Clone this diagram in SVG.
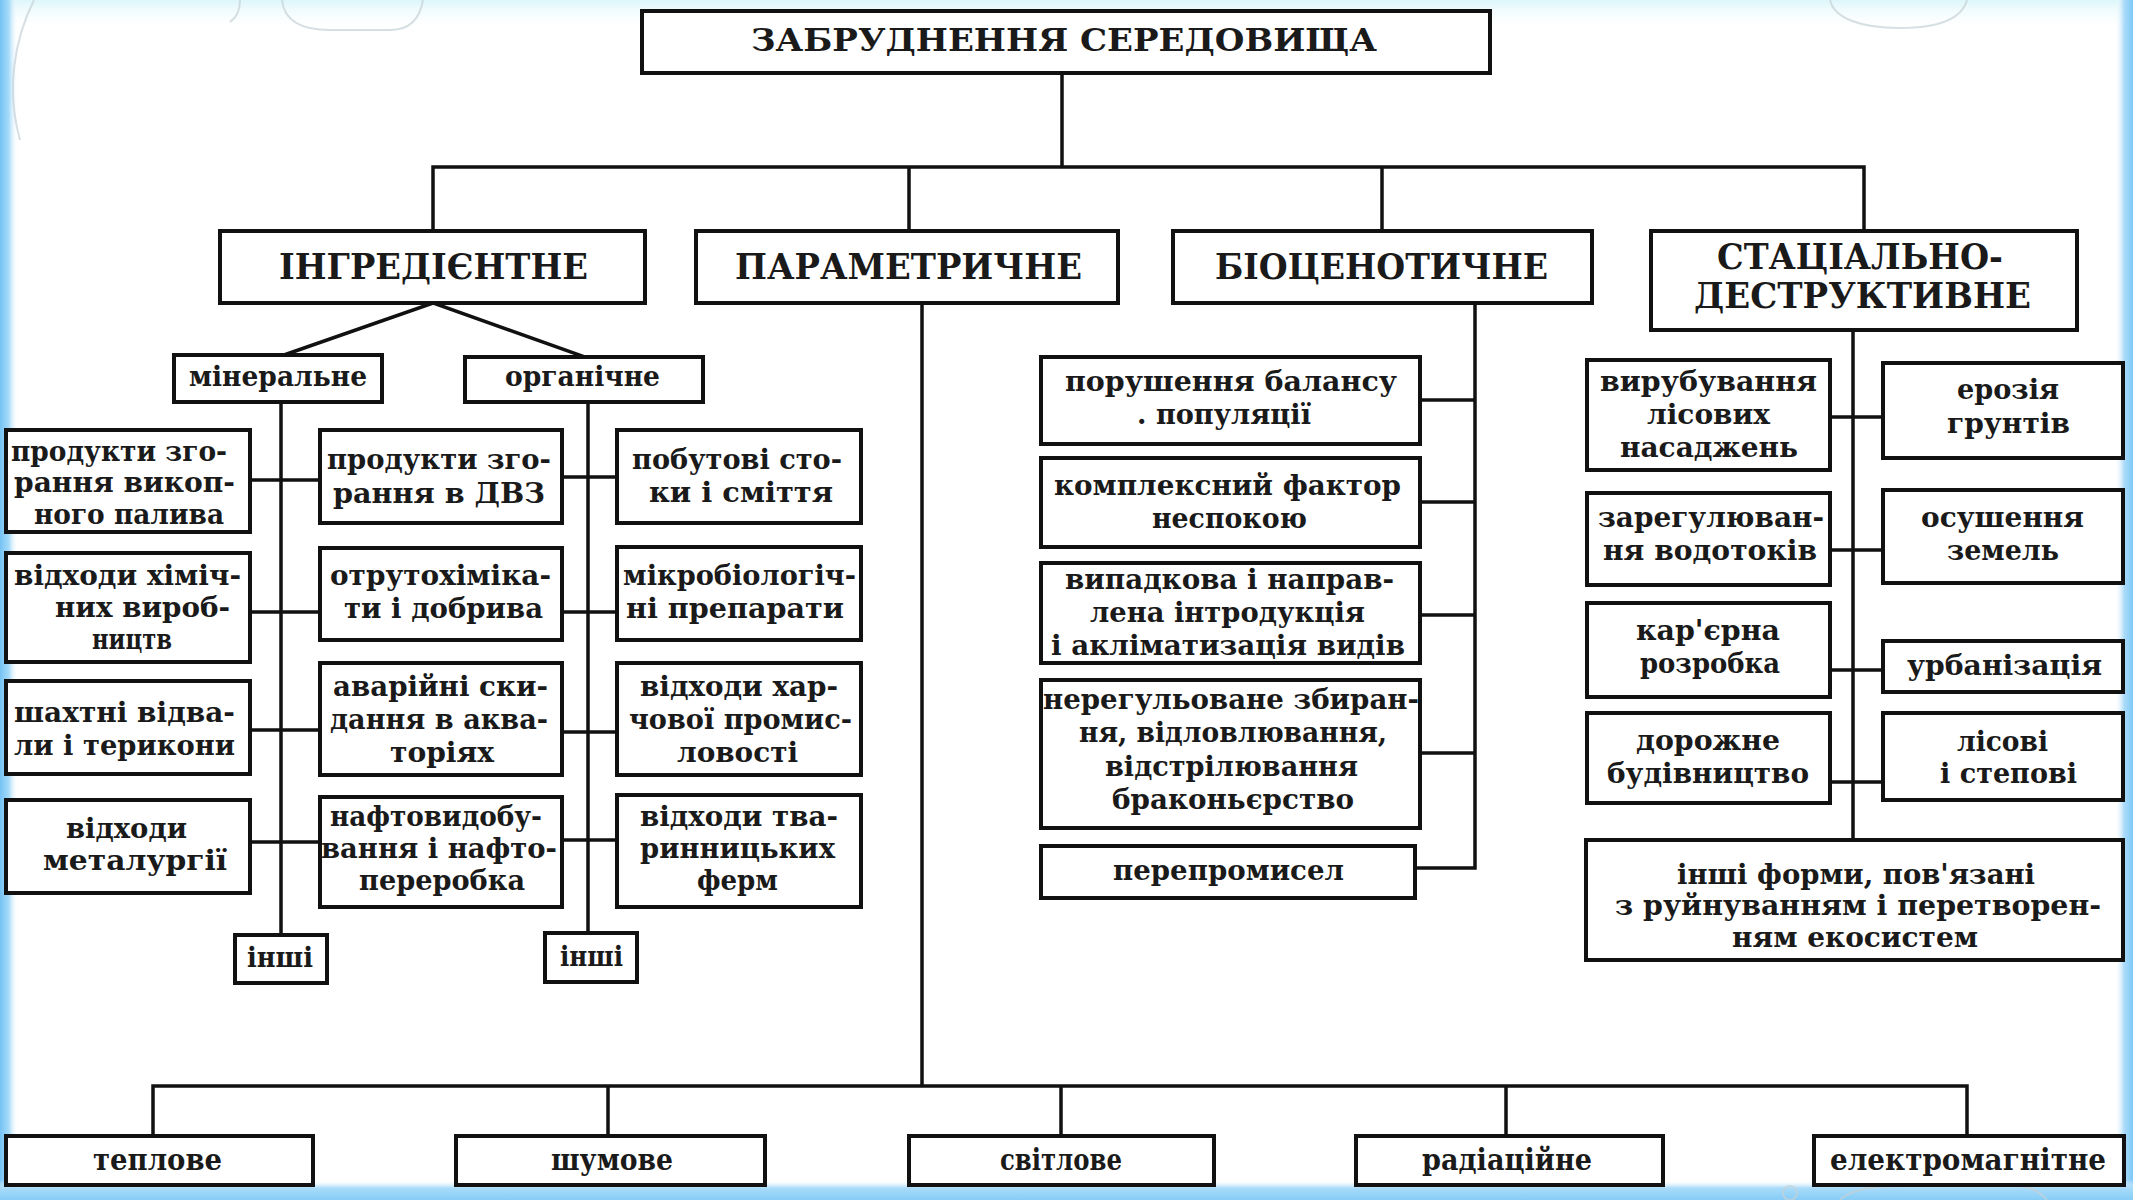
<svg xmlns="http://www.w3.org/2000/svg" width="2133" height="1200" viewBox="0 0 2133 1200">
<defs>
<linearGradient id="gl" x1="0" y1="0" x2="1" y2="0"><stop offset="0" stop-color="#74c2f4"/><stop offset="0.5" stop-color="#a8dbf9"/><stop offset="1" stop-color="#ffffff" stop-opacity="0"/></linearGradient>
<linearGradient id="gr" x1="1" y1="0" x2="0" y2="0"><stop offset="0" stop-color="#7cc8f6"/><stop offset="0.5" stop-color="#addcf9"/><stop offset="1" stop-color="#ffffff" stop-opacity="0"/></linearGradient>
<linearGradient id="gb" x1="0" y1="1" x2="0" y2="0"><stop offset="0" stop-color="#86cdf7"/><stop offset="0.6" stop-color="#a9dbf9"/><stop offset="1" stop-color="#ffffff" stop-opacity="0"/></linearGradient>
<linearGradient id="gt" x1="0" y1="0" x2="0" y2="1"><stop offset="0" stop-color="#dcf6fa"/><stop offset="1" stop-color="#ffffff" stop-opacity="0"/></linearGradient>
<style>
.b{fill:#fff;stroke:#111;stroke-width:4}
.c{fill:none;stroke:#111;stroke-width:3.5;stroke-linecap:square}
text{font-family:"DejaVu Serif","Liberation Serif",serif;font-weight:bold;fill:#1a1a1a}
.t{font-size:28px}
.h{font-size:35px}
.m{font-size:27px}
.f{font-size:30px}
.bub{fill:none;stroke:#c4d2d5;stroke-width:2;opacity:0.7}
</style>
</defs>
<rect x="0" y="0" width="2133" height="1200" fill="#fff"/>
<rect x="0" y="0" width="2133" height="30" fill="url(#gt)"/>
<rect x="0" y="0" width="18" height="1200" fill="url(#gl)"/>
<rect x="2115" y="0" width="18" height="1200" fill="url(#gr)"/>
<rect x="0" y="1180" width="2133" height="20" fill="url(#gb)"/>
<g id="decor">
<path class="bub" d="M34,0 C14,40 6,90 20,140"/>
<path class="bub" d="M240,0 C240,12 236,18 230,22"/>
<path class="bub" d="M282,0 C284,20 300,30 330,30 L390,30 C410,30 420,18 423,0"/>
<path class="bub" d="M1830,0 C1834,18 1860,28 1900,28 C1940,28 1962,18 1967,0"/>
<path class="bub" d="M1840,1200 C1850,1190 1870,1186 1900,1186 M2020,1186 C2035,1188 2042,1194 2047,1200"/>
<circle class="bub" cx="1790" cy="1193" r="7"/>
</g>

<g id="connectors">
<path class="c" d="M1062,73 V167 M433,167 H1864 M433,167 V231 M909,167 V231 M1382,167 V231 M1864,167 V231"/>
<path class="c" d="M433,303 L284,355 M433,303 L585,357"/>
<path class="c" d="M281,402 V935 M250,480 H320 M250,612 H320 M250,730 H320 M250,842 H320"/>
<path class="c" d="M588,402 V933 M562,477 H617 M562,612 H617 M562,732 H617 M562,840 H617"/>
<path class="c" d="M1475,303 V868 M1420,400 H1475 M1420,502 H1475 M1420,615 H1475 M1420,753 H1475 M1415,868 H1475"/>
<path class="c" d="M1853,330 V840 M1830,417 H1883 M1830,550 H1883 M1830,670 H1883 M1830,782 H1883"/>
<path class="c" d="M922,303 V1086 M153,1086 H1967 M153,1086 V1136 M608,1086 V1136 M1061,1086 V1136 M1506,1086 V1136 M1967,1086 V1136"/>
</g>

<g id="n-top"><rect class="b" x="642" y="11" width="848" height="62"/><text x="751" y="51" font-size="31" textLength="626" lengthAdjust="spacingAndGlyphs">ЗАБРУДНЕННЯ СЕРЕДОВИЩА</text></g>

<g id="n-ingr"><rect class="b" x="220" y="231" width="425" height="72"/><text class="h" x="279" y="279" textLength="309" lengthAdjust="spacingAndGlyphs">ІНГРЕДІЄНТНЕ</text></g>
<g id="n-param"><rect class="b" x="696" y="231" width="422" height="72"/><text class="h" x="735" y="279" textLength="347" lengthAdjust="spacingAndGlyphs">ПАРАМЕТРИЧНЕ</text></g>
<g id="n-bio"><rect class="b" x="1173" y="231" width="419" height="72"/><text class="h" x="1215" y="279" textLength="333" lengthAdjust="spacingAndGlyphs">БІОЦЕНОТИЧНЕ</text></g>
<g id="n-stat"><rect class="b" x="1651" y="231" width="426" height="99"/><text class="h" x="1717" y="269" textLength="286" lengthAdjust="spacingAndGlyphs">СТАЦІАЛЬНО-</text><text class="h" x="1694" y="308" textLength="337" lengthAdjust="spacingAndGlyphs">ДЕСТРУКТИВНЕ</text></g>

<g id="n-min"><rect class="b" x="174" y="355" width="208" height="47"/><text class="m" x="189" y="386" textLength="178" lengthAdjust="spacingAndGlyphs">мінеральне</text></g>
<g id="n-org"><rect class="b" x="465" y="357" width="238" height="45"/><text class="m" x="505" y="386" textLength="155" lengthAdjust="spacingAndGlyphs">органічне</text></g>

<g id="n-l1"><rect class="b" x="6" y="430" width="244" height="102"/><text class="t" x="11" y="461" textLength="216" lengthAdjust="spacingAndGlyphs">продукти зго-</text><text class="t" x="14" y="492" textLength="221" lengthAdjust="spacingAndGlyphs">рання викоп-</text><text class="t" x="34" y="524" textLength="190" lengthAdjust="spacingAndGlyphs">ного палива</text></g>
<g id="n-l2"><rect class="b" x="6" y="553" width="244" height="109"/><text class="t" x="14" y="585" textLength="227" lengthAdjust="spacingAndGlyphs">відходи хіміч-</text><text class="t" x="55" y="617" textLength="175" lengthAdjust="spacingAndGlyphs">них вироб-</text><text class="t" x="92" y="649" textLength="80" lengthAdjust="spacingAndGlyphs">ництв</text></g>
<g id="n-l3"><rect class="b" x="6" y="681" width="244" height="93"/><text class="t" x="14" y="722" textLength="221" lengthAdjust="spacingAndGlyphs">шахтні відва-</text><text class="t" x="14" y="755" textLength="221" lengthAdjust="spacingAndGlyphs">ли і терикони</text></g>
<g id="n-l4"><rect class="b" x="6" y="800" width="244" height="93"/><text class="t" x="66" y="838" textLength="121" lengthAdjust="spacingAndGlyphs">відходи</text><text class="t" x="43" y="870" textLength="184" lengthAdjust="spacingAndGlyphs">металургії</text></g>

<g id="n-m1"><rect class="b" x="320" y="430" width="242" height="93"/><text class="t" x="327" y="469" textLength="224" lengthAdjust="spacingAndGlyphs">продукти зго-</text><text class="t" x="333" y="503" textLength="212" lengthAdjust="spacingAndGlyphs">рання в ДВЗ</text></g>
<g id="n-m2"><rect class="b" x="320" y="548" width="242" height="92"/><text class="t" x="330" y="585" textLength="221" lengthAdjust="spacingAndGlyphs">отрутохіміка-</text><text class="t" x="344" y="618" textLength="199" lengthAdjust="spacingAndGlyphs">ти і добрива</text></g>
<g id="n-m3"><rect class="b" x="320" y="663" width="242" height="112"/><text class="t" x="333" y="696" textLength="215" lengthAdjust="spacingAndGlyphs">аварійні ски-</text><text class="t" x="330" y="729" textLength="218" lengthAdjust="spacingAndGlyphs">дання в аква-</text><text class="t" x="390" y="762" textLength="104" lengthAdjust="spacingAndGlyphs">торіях</text></g>
<g id="n-m4"><rect class="b" x="320" y="797" width="242" height="110"/><text class="t" x="330" y="826" textLength="212" lengthAdjust="spacingAndGlyphs">нафтовидобу-</text><text class="t" x="321" y="858" textLength="236" lengthAdjust="spacingAndGlyphs">вання і нафто-</text><text class="t" x="359" y="890" textLength="166" lengthAdjust="spacingAndGlyphs">переробка</text></g>

<g id="n-r1"><rect class="b" x="617" y="430" width="244" height="93"/><text class="t" x="632" y="469" textLength="210" lengthAdjust="spacingAndGlyphs">побутові сто-</text><text class="t" x="649" y="502" textLength="184" lengthAdjust="spacingAndGlyphs">ки і сміття</text></g>
<g id="n-r2"><rect class="b" x="617" y="547" width="244" height="93"/><text class="t" x="623" y="585" textLength="233" lengthAdjust="spacingAndGlyphs">мікробіологіч-</text><text class="t" x="626" y="618" textLength="218" lengthAdjust="spacingAndGlyphs">ні препарати</text></g>
<g id="n-r3"><rect class="b" x="617" y="663" width="244" height="112"/><text class="t" x="640" y="696" textLength="198" lengthAdjust="spacingAndGlyphs">відходи хар-</text><text class="t" x="629" y="729" textLength="223" lengthAdjust="spacingAndGlyphs">чової промис-</text><text class="t" x="677" y="762" textLength="121" lengthAdjust="spacingAndGlyphs">ловості</text></g>
<g id="n-r4"><rect class="b" x="617" y="795" width="244" height="112"/><text class="t" x="640" y="826" textLength="198" lengthAdjust="spacingAndGlyphs">відходи тва-</text><text class="t" x="640" y="858" textLength="195" lengthAdjust="spacingAndGlyphs">ринницьких</text><text class="t" x="697" y="890" textLength="81" lengthAdjust="spacingAndGlyphs">ферм</text></g>

<g id="n-inshi1"><rect class="b" x="235" y="935" width="92" height="48"/><text class="t" x="247" y="967" textLength="66" lengthAdjust="spacingAndGlyphs">інші</text></g>
<g id="n-inshi2"><rect class="b" x="545" y="933" width="92" height="49"/><text class="t" x="560" y="966" textLength="63" lengthAdjust="spacingAndGlyphs">інші</text></g>

<g id="n-b1"><rect class="b" x="1041" y="357" width="379" height="87"/><text class="t" x="1065" y="391" textLength="332" lengthAdjust="spacingAndGlyphs">порушення балансу</text><text class="t" x="1137" y="424" textLength="174" lengthAdjust="spacingAndGlyphs">. популяції</text></g>
<g id="n-b2"><rect class="b" x="1041" y="458" width="379" height="89"/><text class="t" x="1054" y="495" textLength="347" lengthAdjust="spacingAndGlyphs">комплексний фактор</text><text class="t" x="1152" y="528" textLength="155" lengthAdjust="spacingAndGlyphs">неспокою</text></g>
<g id="n-b3"><rect class="b" x="1041" y="563" width="379" height="100"/><text class="t" x="1065" y="589" textLength="329" lengthAdjust="spacingAndGlyphs">випадкова і направ-</text><text class="t" x="1090" y="622" textLength="275" lengthAdjust="spacingAndGlyphs">лена інтродукція</text><text class="t" x="1051" y="655" textLength="354" lengthAdjust="spacingAndGlyphs">і акліматизація видів</text></g>
<g id="n-b4"><rect class="b" x="1041" y="680" width="379" height="148"/><text class="t" x="1043" y="709" textLength="376" lengthAdjust="spacingAndGlyphs">нерегульоване збиран-</text><text class="t" x="1079" y="742" textLength="308" lengthAdjust="spacingAndGlyphs">ня, відловлювання,</text><text class="t" x="1105" y="776" textLength="253" lengthAdjust="spacingAndGlyphs">відстрілювання</text><text class="t" x="1112" y="809" textLength="242" lengthAdjust="spacingAndGlyphs">браконьєрство</text></g>
<g id="n-b5"><rect class="b" x="1041" y="846" width="374" height="52"/><text class="t" x="1113" y="880" textLength="231" lengthAdjust="spacingAndGlyphs">перепромисел</text></g>

<g id="n-s1"><rect class="b" x="1587" y="360" width="243" height="110"/><text class="t" x="1600" y="391" textLength="217" lengthAdjust="spacingAndGlyphs">вирубування</text><text class="t" x="1647" y="424" textLength="123" lengthAdjust="spacingAndGlyphs">лісових</text><text class="t" x="1620" y="457" textLength="178" lengthAdjust="spacingAndGlyphs">насаджень</text></g>
<g id="n-s2"><rect class="b" x="1587" y="493" width="243" height="92"/><text class="t" x="1598" y="527" textLength="226" lengthAdjust="spacingAndGlyphs">зарегулюван-</text><text class="t" x="1603" y="560" textLength="214" lengthAdjust="spacingAndGlyphs">ня водотоків</text></g>
<g id="n-s3"><rect class="b" x="1587" y="603" width="243" height="94"/><text class="t" x="1636" y="640" textLength="144" lengthAdjust="spacingAndGlyphs">кар'єрна</text><text class="t" x="1640" y="673" textLength="140" lengthAdjust="spacingAndGlyphs">розробка</text></g>
<g id="n-s4"><rect class="b" x="1587" y="713" width="243" height="90"/><text class="t" x="1636" y="750" textLength="144" lengthAdjust="spacingAndGlyphs">дорожне</text><text class="t" x="1607" y="783" textLength="202" lengthAdjust="spacingAndGlyphs">будівництво</text></g>

<g id="n-t1"><rect class="b" x="1883" y="363" width="240" height="95"/><text class="t" x="1957" y="399" textLength="102" lengthAdjust="spacingAndGlyphs">ерозія</text><text class="t" x="1947" y="433" textLength="123" lengthAdjust="spacingAndGlyphs">грунтів</text></g>
<g id="n-t2"><rect class="b" x="1883" y="490" width="240" height="93"/><text class="t" x="1921" y="527" textLength="163" lengthAdjust="spacingAndGlyphs">осушення</text><text class="t" x="1947" y="560" textLength="112" lengthAdjust="spacingAndGlyphs">земель</text></g>
<g id="n-t3"><rect class="b" x="1883" y="641" width="240" height="51"/><text class="t" x="1907" y="675" textLength="195" lengthAdjust="spacingAndGlyphs">урбанізація</text></g>
<g id="n-t4"><rect class="b" x="1883" y="713" width="240" height="87"/><text class="t" x="1957" y="751" textLength="91" lengthAdjust="spacingAndGlyphs">лісові</text><text class="t" x="1940" y="783" textLength="137" lengthAdjust="spacingAndGlyphs">і степові</text></g>

<g id="n-other"><rect class="b" x="1586" y="840" width="537" height="120"/><text class="t" x="1677" y="884" textLength="358" lengthAdjust="spacingAndGlyphs">інші форми, пов'язані</text><text class="t" x="1615" y="915" textLength="486" lengthAdjust="spacingAndGlyphs">з руйнуванням і перетворен-</text><text class="t" x="1732" y="947" textLength="246" lengthAdjust="spacingAndGlyphs">ням екосистем</text></g>

<g id="n-teplove"><rect class="b" x="6" y="1136" width="307" height="49"/><text class="f" x="93" y="1170" textLength="129" lengthAdjust="spacingAndGlyphs">теплове</text></g>
<g id="n-shumove"><rect class="b" x="456" y="1136" width="309" height="49"/><text class="f" x="551" y="1170" textLength="122" lengthAdjust="spacingAndGlyphs">шумове</text></g>
<g id="n-svitlove"><rect class="b" x="909" y="1136" width="305" height="49"/><text class="f" x="1000" y="1170" textLength="122" lengthAdjust="spacingAndGlyphs">світлове</text></g>
<g id="n-radiac"><rect class="b" x="1356" y="1136" width="307" height="49"/><text class="f" x="1422" y="1170" textLength="170" lengthAdjust="spacingAndGlyphs">радіаційне</text></g>
<g id="n-elmag"><rect class="b" x="1814" y="1136" width="310" height="49"/><text class="f" x="1830" y="1170" textLength="276" lengthAdjust="spacingAndGlyphs">електромагнітне</text></g>
</svg>
